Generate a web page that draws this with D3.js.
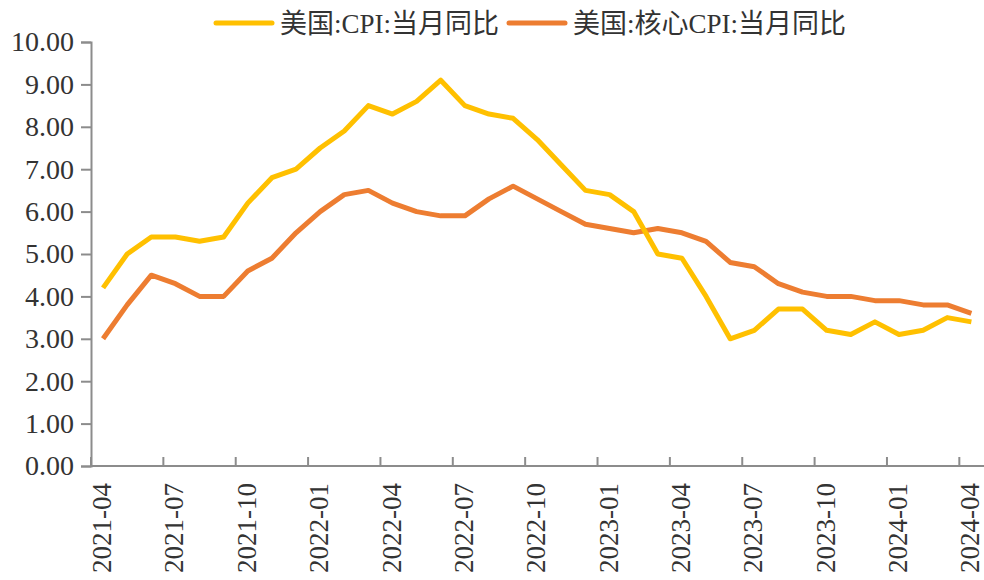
<!DOCTYPE html>
<html>
<head>
<meta charset="utf-8">
<script src="https://cdn.jsdelivr.net/npm/d3@7"></script>
<style>
  body { margin: 0; background: #fff; }
  svg { display: block; font-family: "Liberation Serif", "Noto Sans CJK SC", serif; }
</style>
</head>
<body>
<svg id="chart"></svg>
<script>
const months = [
  "2021-04","2021-05","2021-06","2021-07","2021-08","2021-09","2021-10","2021-11","2021-12",
  "2022-01","2022-02","2022-03","2022-04","2022-05","2022-06","2022-07","2022-08","2022-09","2022-10","2022-11","2022-12",
  "2023-01","2023-02","2023-03","2023-04","2023-05","2023-06","2023-07","2023-08","2023-09","2023-10","2023-11","2023-12",
  "2024-01","2024-02","2024-03","2024-04"
];
const cpi = [4.2,5.0,5.4,5.4,5.3,5.4,6.2,6.8,7.0,7.5,7.9,8.5,8.3,8.6,9.1,8.5,8.3,8.2,7.7,7.1,6.5,6.4,6.0,5.0,4.9,4.0,3.0,3.2,3.7,3.7,3.2,3.1,3.4,3.1,3.2,3.5,3.4];
const coreCpi = [3.0,3.8,4.5,4.3,4.0,4.0,4.6,4.9,5.5,6.0,6.4,6.5,6.2,6.0,5.9,5.9,6.3,6.6,6.3,6.0,5.7,5.6,5.5,5.6,5.5,5.3,4.8,4.7,4.3,4.1,4.0,4.0,3.9,3.9,3.8,3.8,3.6];
const seriesNames = ["美国:CPI:当月同比", "美国:核心CPI:当月同比"];
const colors = ["#FFC000", "#ED7D31"];
const yTicks = [0,1,2,3,4,5,6,7,8,9,10];
const xTickLabels = months.filter((d, i) => i % 3 === 0);

const width = 984, height = 580;
const margin = { top: 42, right: 0, bottom: 114, left: 91 };

const svg = d3.select("#chart").attr("width", width).attr("height", height);

const x = d3.scaleBand()
  .domain(months)
  .range([margin.left, margin.left + 37 * 24.12]);
const y = d3.scaleLinear()
  .domain([0, 10])
  .range([height - margin.bottom, margin.top]);

const axisColor = "#8c8c8c";

// y axis
const yAxis = svg.append("g")
  .attr("transform", "translate(" + margin.left + ",0)")
  .call(d3.axisLeft(y).tickValues(yTicks).tickSize(10).tickPadding(7).tickFormat(d3.format(".2f")));
yAxis.select(".domain").attr("stroke", axisColor).attr("stroke-width", 2);
yAxis.selectAll(".tick line").attr("stroke", axisColor).attr("stroke-width", 2);
yAxis.selectAll("text")
  .attr("fill", "#333")
  .style("font-size", "28px")
  .style("font-family", "Liberation Serif, serif");

// x axis: ticks at band starts, labels at band centres
const xg = svg.append("g").attr("transform", "translate(0," + y(0) + ")");
xg.append("line")
  .attr("x1", margin.left).attr("x2", width)
  .attr("stroke", axisColor).attr("stroke-width", 2);
xg.selectAll("line.tick")
  .data(xTickLabels)
  .enter().append("line")
  .attr("class", "tick")
  .attr("x1", d => x(d)).attr("x2", d => x(d))
  .attr("y1", 0).attr("y2", -9)
  .attr("stroke", axisColor).attr("stroke-width", 2);
xg.selectAll("text")
  .data(xTickLabels)
  .enter().append("text")
  .attr("transform", d => "translate(" + (x(d) + x.bandwidth() / 2 + 8) + ",17) rotate(-90)")
  .attr("text-anchor", "end")
  .attr("fill", "#333")
  .style("font-size", "27px")
  .style("font-family", "Liberation Serif, serif")
  .text(d => d);

// lines
const line = d3.line()
  .x((d, i) => x(months[i]) + x.bandwidth() / 2)
  .y(d => y(d));

[coreCpi, cpi].forEach(function (vals, k) {
  const idx = k === 0 ? 1 : 0;
  svg.append("path")
    .datum(vals)
    .attr("fill", "none")
    .attr("stroke", colors[idx])
    .attr("stroke-width", 5)
    .attr("stroke-linejoin", "round")
    .attr("d", line);
});

// legend
const legendItems = [
  { name: seriesNames[0], color: colors[0], x: 216 },
  { name: seriesNames[1], color: colors[1], x: 509 }
];
const legend = svg.append("g");
legendItems.forEach(function (d) {
  legend.append("line")
    .attr("x1", d.x).attr("x2", d.x + 56)
    .attr("y1", 23).attr("y2", 23)
    .attr("stroke", d.color).attr("stroke-width", 5)
    .attr("stroke-linecap", "round");
  legend.append("text")
    .attr("x", d.x + 64).attr("y", 33)
    .attr("fill", "#333")
    .style("font-size", "27px")
    .text(d.name);
});
</script>
</body>
</html>
